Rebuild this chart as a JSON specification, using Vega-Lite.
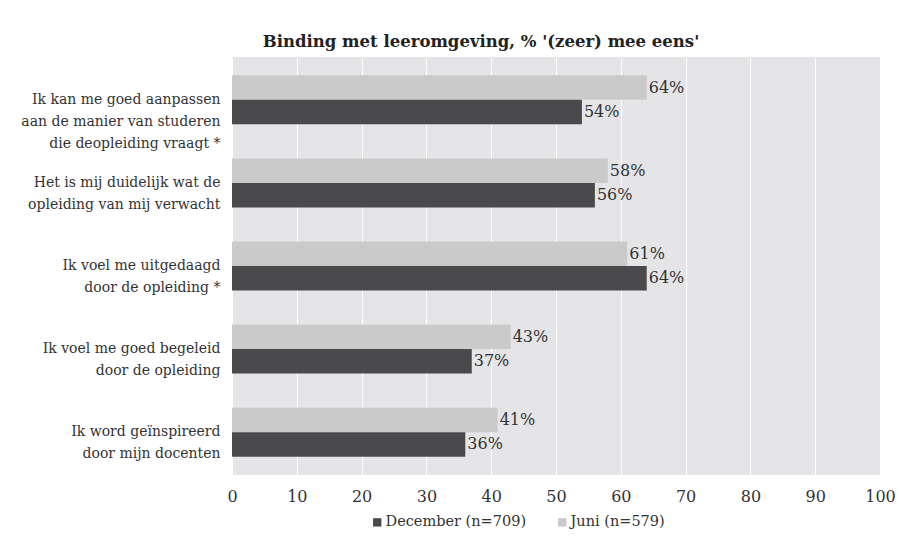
{
  "$schema": "https://vega.github.io/schema/vega-lite/v6.json",
  "autosize": "none",
  "width": 648,
  "height": 418,
  "padding": {"left": 232, "top": 57, "right": 19, "bottom": 70},
  "background": "white",
  "config": {
    "view": {"fill": "#e5e5e7", "stroke": null},
    "font": "DejaVu Serif"
  },
  "title": {
    "text": "Binding met leeromgeving, % '(zeer) mee eens'",
    "font": "DejaVu Serif",
    "fontSize": 16.5,
    "fontWeight": "bold",
    "color": "#222222",
    "anchor": "middle",
    "frame": "group",
    "dx": -75,
    "offset": 7
  },
  "data": {
    "values": [
      {"stelling": "Ik kan me goed aanpassen|aan de manier van studeren|die deopleiding vraagt *", "reeks": "Juni (n=579)", "pct": 64, "label": "64%"},
      {"stelling": "Ik kan me goed aanpassen|aan de manier van studeren|die deopleiding vraagt *", "reeks": "December (n=709)", "pct": 54, "label": "54%"},
      {"stelling": "Het is mij duidelijk wat de|opleiding van mij verwacht", "reeks": "Juni (n=579)", "pct": 58, "label": "58%"},
      {"stelling": "Het is mij duidelijk wat de|opleiding van mij verwacht", "reeks": "December (n=709)", "pct": 56, "label": "56%"},
      {"stelling": "Ik voel me uitgedaagd|door de opleiding *", "reeks": "Juni (n=579)", "pct": 61, "label": "61%"},
      {"stelling": "Ik voel me uitgedaagd|door de opleiding *", "reeks": "December (n=709)", "pct": 64, "label": "64%"},
      {"stelling": "Ik voel me goed begeleid|door de opleiding", "reeks": "Juni (n=579)", "pct": 43, "label": "43%"},
      {"stelling": "Ik voel me goed begeleid|door de opleiding", "reeks": "December (n=709)", "pct": 37, "label": "37%"},
      {"stelling": "Ik word geïnspireerd|door mijn docenten", "reeks": "Juni (n=579)", "pct": 41, "label": "41%"},
      {"stelling": "Ik word geïnspireerd|door mijn docenten", "reeks": "December (n=709)", "pct": 36, "label": "36%"}
    ]
  },
  "encoding": {
    "y": {
      "field": "stelling",
      "type": "nominal",
      "sort": null,
      "title": null,
      "scale": {"paddingInner": 0.41, "paddingOuter": 0.22},
      "axis": {
        "domain": false,
        "ticks": false,
        "labelExpr": "split(datum.label, '|')",
        "labelFont": "DejaVu Serif",
        "labelFontSize": 14,
        "labelColor": "#333333",
        "labelPadding": 12,
        "labelLineHeight": 22,
        "labelLimit": 300
      }
    },
    "yOffset": {
      "field": "reeks",
      "type": "nominal",
      "sort": ["Juni (n=579)", "December (n=709)"]
    },
    "x": {
      "field": "pct",
      "type": "quantitative",
      "title": null,
      "scale": {"domain": [0, 100], "nice": false},
      "axis": {
        "values": [0, 10, 20, 30, 40, 50, 60, 70, 80, 90, 100],
        "domain": false,
        "ticks": false,
        "grid": true,
        "gridColor": "white",
        "gridWidth": 1,
        "labelFont": "DejaVu Serif",
        "labelFontSize": 16,
        "labelColor": "#333333",
        "labelPadding": 13,
        "labelFlush": false
      }
    }
  },
  "layer": [
    {
      "mark": {"type": "bar"},
      "encoding": {
        "color": {
          "field": "reeks",
          "type": "nominal",
          "scale": {"domain": ["December (n=709)", "Juni (n=579)"], "range": ["#4a4a4c", "#cacacb"]},
          "legend": {
            "title": null,
            "orient": "none",
            "legendX": 138,
            "legendY": 458,
            "direction": "horizontal",
            "symbolType": "square",
            "symbolSize": 70,
            "symbolStrokeWidth": 0,
            "labelFont": "DejaVu Serif",
            "labelFontSize": 14.5,
            "labelColor": "#333333",
            "labelOffset": 1,
            "columnPadding": 28
          }
        }
      }
    },
    {
      "mark": {"type": "text", "align": "left", "dx": 2, "fontSize": 16, "font": "DejaVu Serif", "color": "#333333", "baseline": "middle"},
      "encoding": {
        "text": {"field": "label", "type": "nominal"}
      }
    }
  ]
}
